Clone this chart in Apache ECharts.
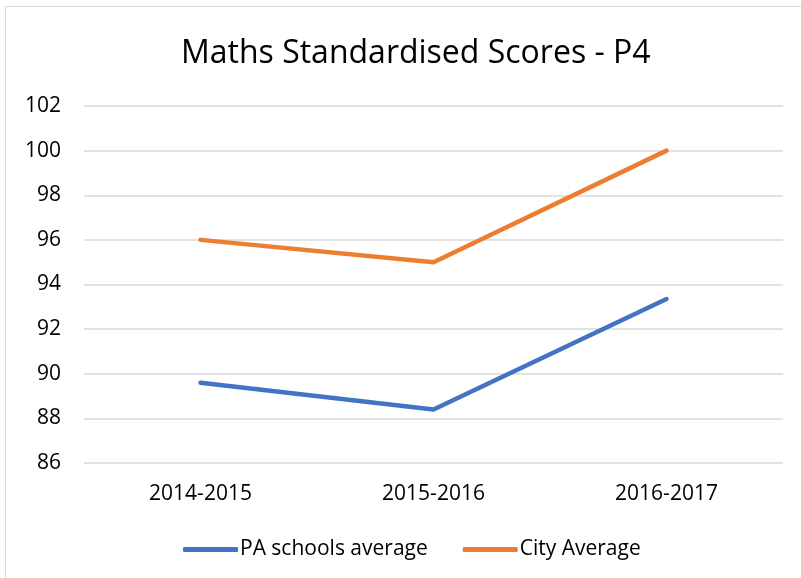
<!DOCTYPE html>
<html><head><meta charset="utf-8">
<script src="https://cdn.jsdelivr.net/npm/echarts@6/dist/echarts.min.js"></script>
<style>html,body{margin:0;padding:0;background:#fff}#c{width:801px;height:578px}</style>
</head><body><div id="c"></div>
<script>
const categories = ['2014-2015', '2015-2016', '2016-2017'];
const paSchools = [89.6, 88.4, 93.35];
const cityAverage = [96, 95, 100];
const seriesNames = ['PA schools average', 'City Average'];
const titleText = 'Maths Standardised Scores - P4';

const font = '"Open Sans", Calibri, sans-serif';
const chart = echarts.init(document.getElementById('c'), null, {renderer: 'canvas'});
chart.setOption({
  animation: false,
  backgroundColor: '#fff',
  graphic: [{type: 'rect', shape: {x: 5.5, y: 6.5, width: 820, height: 600}, style: {fill: 'none', stroke: '#d9d9d9', lineWidth: 1}, silent: true}],
  title: {text: titleText, left: 176, top: 33, textStyle: {fontFamily: font, fontWeight: 'normal', fontSize: 32, color: '#000'}},
  grid: {left: 84, right: 18, top: 106, bottom: 115, containLabel: false},
  legend: {
    data: seriesNames, top: 534, left: 178, itemWidth: 55, itemHeight: 5, itemGap: 35,
    icon: 'roundRect',
    textStyle: {fontFamily: font, fontSize: 21, color: '#000', padding: [0, 0, 0, -3]}
  },
  xAxis: {
    type: 'category', data: categories, boundaryGap: true,
    axisLine: {show: false}, axisTick: {show: false},
    axisLabel: {fontFamily: font, fontSize: 21, color: '#000', margin: 21}
  },
  yAxis: {
    type: 'value', min: 86, max: 102, interval: 2,
    axisLine: {show: false}, axisTick: {show: false},
    axisLabel: {fontFamily: font, fontSize: 21, color: '#000', margin: 23},
    splitLine: {lineStyle: {color: '#d9d9d9', width: 1.5}}
  },
  series: [
    {name: seriesNames[0], type: 'line', data: paSchools, symbol: 'none', lineStyle: {width: 4.5, color: '#4472C4', cap: 'round', join: 'round'}, itemStyle: {color: '#4472C4'}},
    {name: seriesNames[1], type: 'line', data: cityAverage, symbol: 'none', lineStyle: {width: 4.5, color: '#ED7D31', cap: 'round', join: 'round'}, itemStyle: {color: '#ED7D31'}}
  ]
});
</script></body></html>
